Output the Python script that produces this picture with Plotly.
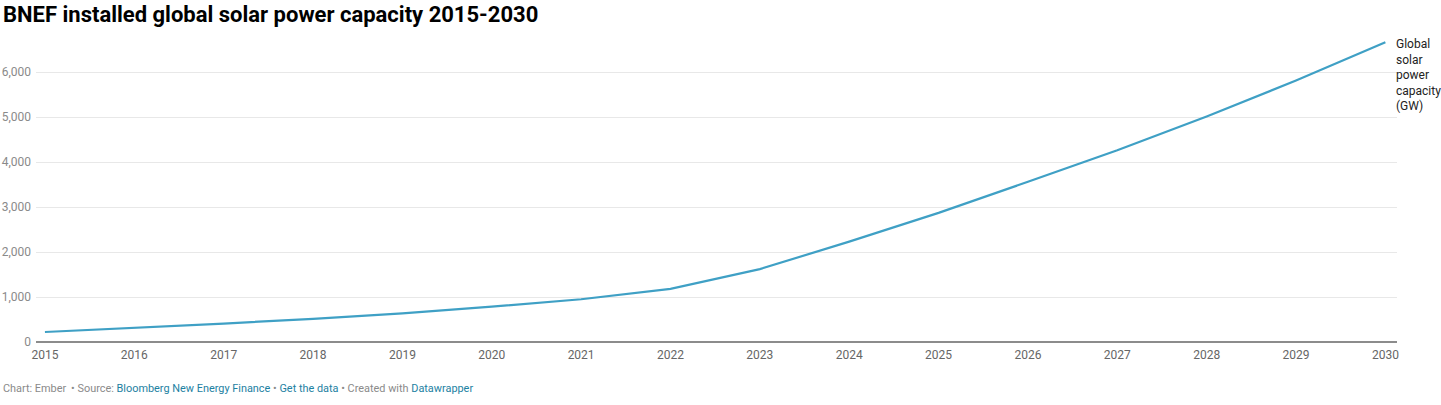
import plotly.graph_objects as go

years = list(range(2015, 2031))
capacity_gw = [222, 310, 410, 515, 635, 785, 950, 1180, 1620, 2230, 2870, 3560, 4260, 5010, 5810, 6660]
y_ticks = [0, 1000, 2000, 3000, 4000, 5000, 6000]
y_tick_labels = ["0", "1,000", "2,000", "3,000", "4,000", "5,000", "6,000"]
series_label = "Global<br>solar<br>power<br>capacity<br>(GW)"
title_text = "BNEF installed global solar power capacity 2015-2030"

LINE = "#3fa0c5"
LINK = "#1d81a2"
GRAY = "#8a8a8a"

W, H = 1441, 405
ML, MR, MT, MB = 36, 44, 36, 63
PW, PH = W - ML - MR, H - MT - MB

fig = go.Figure()
fig.add_trace(go.Scatter(
    x=years, y=capacity_gw, mode="lines",
    line=dict(color=LINE, width=2.2),
    hoverinfo="x+y", showlegend=False,
))

fig.add_annotation(
    x=years[-1], y=capacity_gw[-1], xref="x", yref="y",
    text=series_label, showarrow=False, xanchor="left", yanchor="top",
    xshift=9, yshift=7, align="left",
    font=dict(family="Roboto", size=12, color="#222222"),
)

fig.add_annotation(
    x=-(ML - 1) / PW, y=1 + (MT - 14) / PH, xref="paper", yref="paper",
    xanchor="left", yanchor="middle",
    text="<b>" + title_text + "</b>", showarrow=False,
    font=dict(family="Roboto", size=22, color="#000000"),
)

footer = ("Chart: Ember \u2009\u2022 Source: <span style='color:%s'>Bloomberg New Energy Finance</span>"
          " \u2022 <span style='color:%s'>Get the data</span> \u2022 Created with "
          "<span style='color:%s'>Datawrapper</span>") % (LINK, LINK, LINK)
fig.add_annotation(
    x=-(ML - 1) / PW, y=-(389 - (H - MB)) / PH, xref="paper", yref="paper",
    xanchor="left", yanchor="middle",
    text=footer, showarrow=False,
    font=dict(family="Roboto", size=10.9, color=GRAY),
)

fig.update_layout(
    width=W, height=H,
    margin=dict(l=ML, r=MR, t=MT, b=MB, autoexpand=False),
    paper_bgcolor="white", plot_bgcolor="white",
    font=dict(family="Roboto", size=12, color=GRAY),
)

fig.update_xaxes(
    range=[2014.9, 2030.13], tickmode="array", tickvals=years,
    ticktext=[str(y) for y in years], showgrid=False, zeroline=False,
    showline=False, ticks="", automargin=False, ticklabelstandoff=4,
    tickfont=dict(family="Roboto", size=12, color="#666666"),
)
fig.update_yaxes(
    range=[0, 6800], tickmode="array", tickvals=y_ticks, ticktext=y_tick_labels,
    showgrid=True, gridcolor="#e8e8e8", gridwidth=1,
    zeroline=True, zerolinecolor="#8c8c8c", zerolinewidth=2,
    showline=False, ticks="", ticklabelstandoff=4, automargin=False,
    tickfont=dict(family="Roboto", size=12, color="#8a8a8a"),
)

fig.write_html(
    "out.html",
    config={"displayModeBar": False},
    post_script="document.body.style.margin='0';document.body.style.overflow='hidden';",
)
